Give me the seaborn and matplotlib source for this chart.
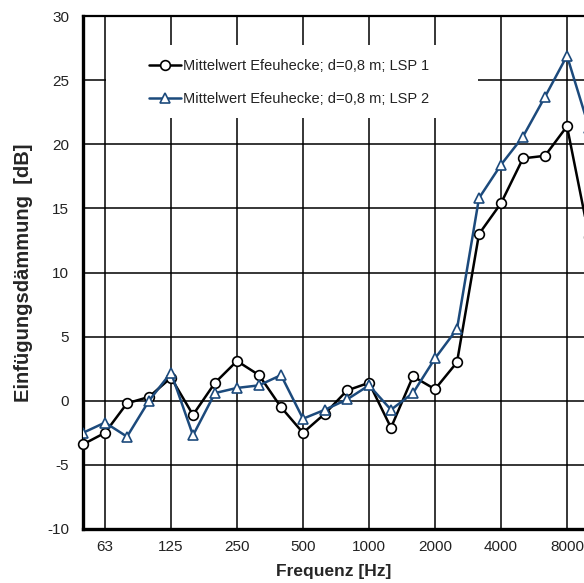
import numpy as np
import pandas as pd
import seaborn as sns
import matplotlib.pyplot as plt
from matplotlib.patches import Rectangle

# Terzband-Mittenfrequenzen (50 Hz .. 10 kHz)
freqs = [50, 63, 80, 100, 125, 160, 200, 250, 315, 400, 500, 630, 800,
         1000, 1250, 1600, 2000, 2500, 3150, 4000, 5000, 6300, 8000, 10000]
lsp1 = [-3.4, -2.5, -0.2, 0.3, 1.8, -1.1, 1.4, 3.1, 2.0, -0.5, -2.5, -1.0, 0.8,
        1.4, -2.1, 1.9, 0.9, 3.0, 13.0, 15.4, 18.9, 19.1, 21.4, 12.8]
lsp2 = [-2.5, -1.7, -2.8, 0.0, 2.2, -2.7, 0.6, 1.0, 1.2, 2.0, -1.4, -0.7, 0.1,
        1.2, -0.7, 0.6, 3.3, 5.6, 15.8, 18.4, 20.6, 23.7, 26.9, 21.3]
tick_labels = ["63", "125", "250", "500", "1000", "2000", "4000", "8000"]
label1 = "Mittelwert Efeuhecke; d=0,8 m; LSP 1"
label2 = "Mittelwert Efeuhecke; d=0,8 m; LSP 2"

df = pd.DataFrame({"pos": np.arange(len(freqs)), "lsp1": lsp1, "lsp2": lsp2})

sns.set_style("white")
plt.rcParams['font.family'] = ['Liberation Sans', 'DejaVu Sans']
plt.rcParams['axes.unicode_minus'] = False

fig = plt.figure(figsize=(5.84, 5.83), dpi=100)
ax = fig.add_axes([83 / 584, 54 / 583, 506 / 584, 513 / 583])

blue = "#1c4a7c"
sns.lineplot(data=df, x="pos", y="lsp1", ax=ax, color="black", lw=1.8,
             marker="o", markersize=7, markerfacecolor="white",
             markeredgecolor="black", markeredgewidth=1.2, label=label1,
             zorder=3, clip_on=False)
sns.lineplot(data=df, x="pos", y="lsp2", ax=ax, color=blue, lw=1.8,
             marker="^", markersize=7.5, markerfacecolor="white",
             markeredgecolor=blue, markeredgewidth=1.2, label=label2,
             zorder=3)

ax.set_xlim(0, len(freqs) - 1)
ax.set_ylim(-10, 30)
octave_pos = [freqs.index(int(t)) for t in tick_labels]
ax.set_xticks(octave_pos)
ax.set_xticklabels(tick_labels)
ax.set_yticks(range(-10, 31, 5))
ax.tick_params(axis="both", length=0, labelsize=11, colors="#222222")
ax.tick_params(axis="x", pad=8)
ax.tick_params(axis="y", pad=10)

ax.grid(True, color="black", lw=1.1)
ax.set_axisbelow(True)
for side, w in [("left", 2.4), ("bottom", 2.4), ("top", 1.6), ("right", 1.6)]:
    ax.spines[side].set_linewidth(w)
    ax.spines[side].set_color("black")

# weisser Hintergrund der Legende
ax.add_patch(Rectangle(((106 - 83) / 506, (529 - 118) / 513), (478 - 106) / 506,
                       73 / 513, transform=ax.transAxes, facecolor="white",
                       edgecolor="none", zorder=1.5))
leg = ax.legend(loc="center", bbox_to_anchor=(0.407, 0.870), frameon=False,
                fontsize=10.5, handlelength=2.2, handletextpad=0.1,
                labelspacing=1.3)
for t in leg.get_texts():
    t.set_color("#222222")

ax.set_xlabel("Frequenz [Hz]", fontsize=12.5, fontweight="bold")
ax.set_ylabel("Einfügungsdämmung  [dB]", fontsize=14.5, fontweight="bold")
ax.xaxis.set_label_coords((334 - 83) / 506, -(564 - 529) / 513)
ax.yaxis.set_label_coords(-(83 - 33) / 506, 0.5)

fig.savefig("out.png", dpi=100)
plt.close(fig)
